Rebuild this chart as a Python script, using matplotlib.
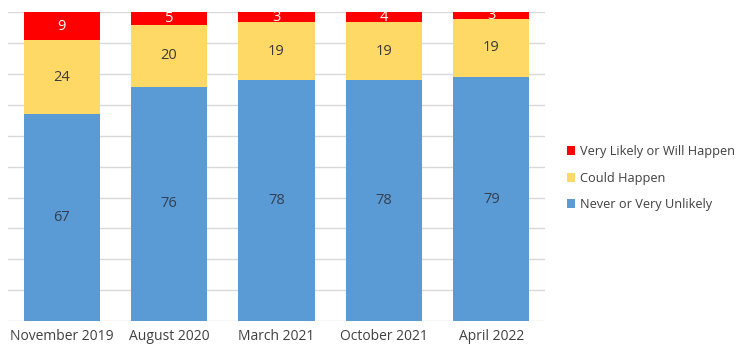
import matplotlib.pyplot as plt
import numpy as np

# survey waves and stacked shares (percent)
categories = ['November 2019', 'August 2020', 'March 2021', 'October 2021', 'April 2022']
never_unlikely = [67, 76, 78, 78, 79]
could_happen = [24, 20, 19, 19, 19]
very_likely = [9, 5, 3, 4, 3]

plt.rcParams['font.family'] = ['Open Sans', 'DejaVu Sans']

fig = plt.figure(figsize=(7.47, 3.52), dpi=100)
ax = fig.add_axes([8 / 747, 31 / 352, 537 / 747, 308.5 / 352])

x = np.arange(len(categories))
width = 0.71

b1 = ax.bar(x, never_unlikely, width, color='#5B9BD5', label='Never or Very Unlikely', zorder=2)
b2 = ax.bar(x, could_happen, width, bottom=never_unlikely, color='#FFD966',
            label='Could Happen', zorder=2)
bottom2 = np.array(never_unlikely) + np.array(could_happen)
b3 = ax.bar(x, very_likely, width, bottom=bottom2, color='#FF0000',
            label='Very Likely or Will Happen', zorder=2)

ax.bar_label(b1, label_type='center', color='#333F50', fontsize=10.5)
ax.bar_label(b2, label_type='center', color='#3A3A3A', fontsize=10.5)
ax.bar_label(b3, label_type='center', color='white', fontsize=10.5)

ax.set_xlim(-0.5, len(categories) - 0.5)
ax.set_ylim(0, 100)
ax.set_yticks(np.arange(0, 101, 10))
ax.yaxis.grid(True, color='#D9D9D9', linewidth=1, zorder=0)
ax.tick_params(axis='y', left=False, labelleft=False)
ax.tick_params(axis='x', length=0, labelsize=10, colors='#404040', pad=6)
ax.set_xticks(x)
ax.set_xticklabels(categories)
for s in ax.spines.values():
    s.set_visible(False)

handles = [b3, b2, b1]
leg = fig.legend(handles, [h.get_label() for h in handles], loc='center left',
                 bbox_to_anchor=(555 / 747, 1 - 178 / 352), frameon=False,
                 fontsize=9.2, handlelength=0.7, handleheight=0.7,
                 handletextpad=0.35, labelspacing=1.05)
for t in leg.get_texts():
    t.set_color('#404040')

fig.savefig('out.png', dpi=100)
